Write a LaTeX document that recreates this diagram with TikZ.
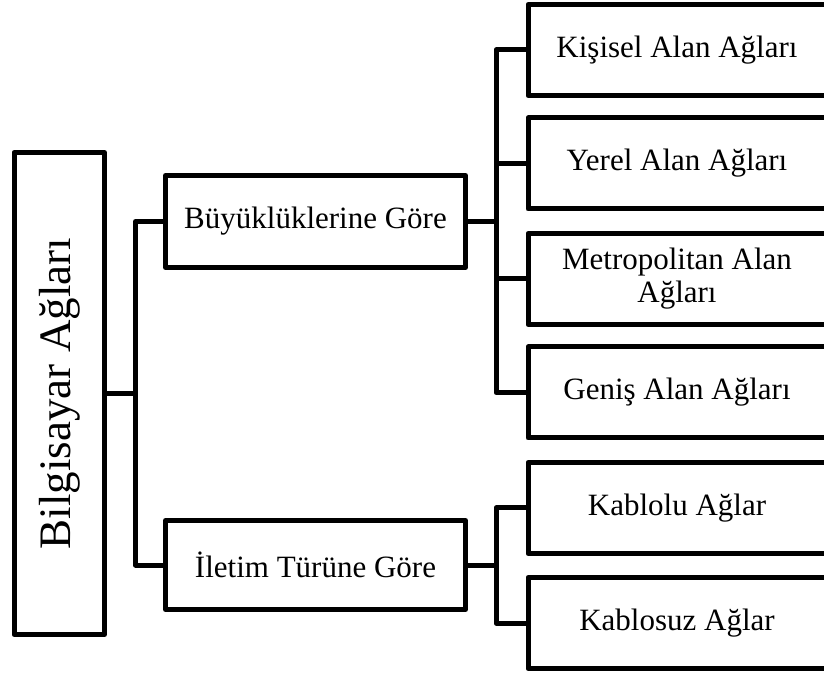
\documentclass[tikz,border=0pt]{standalone}
\usepackage{fontspec}
\setmainfont{Liberation Serif}
\begin{document}
\begin{tikzpicture}[x=1pt,y=1pt,
  box/.style={draw=black, line width=5pt, line join=round, fill=white,
    inner sep=0pt, align=center, font=\fontsize{31}{33}\selectfont},
  leaf/.style={box, minimum width=298pt, minimum height=91pt},
  branch/.style={box, minimum width=300pt},
  conn/.style={draw=black, line width=5pt, line join=round}]
  \useasboundingbox (0,0) rectangle (824,672);
  \clip (0,0) rectangle (824,672);

  % root of the tree
  \node[box, minimum width=90.5pt, minimum height=482pt,
        font=\fontsize{45}{50}\selectfont] (root) at (59.25,278.5)
        {\rotatebox{90}{Bilgisayar Ağları}};

  % second level
  \node[branch, minimum height=92pt] (bm) at (315.5,450.5) {Büyüklüklerine Göre};
  \node[branch, minimum height=89pt] (im) at (315.5,107) {İletim Türüne Göre};

  % leaves
  \node[leaf] (k1) at (677,622)   {Kişisel Alan Ağları};
  \node[leaf] (k2) at (677,508.5) {Yerel Alan Ağları};
  \node[leaf] (k3) at (677,393)   {Metropolitan Alan\\Ağları};
  \node[leaf] (k4) at (677,279.5) {Geniş Alan Ağları};
  \node[leaf] (k5) at (677,164)   {Kablolu Ağlar};
  \node[leaf] (k6) at (677,49)    {Kablosuz Ağlar};

  % junction points of the bracket connectors
  \coordinate (rj) at (135.5,278.5);
  \coordinate (bj) at (496,450.5);
  \coordinate (ij) at (496,107);

  \draw[conn] (root.east) -- (rj);
  \draw[conn] (rj) |- (bm.west);
  \draw[conn] (rj) |- (im.west);

  \draw[conn] (bm.east) -- (bj);
  \draw[conn] (bj) |- (k1.west);
  \draw[conn] (bj) |- (k2.west);
  \draw[conn] (bj) |- (k3.west);
  \draw[conn] (bj) |- (k4.west);

  \draw[conn] (im.east) -- (ij);
  \draw[conn] (ij) |- (k5.west);
  \draw[conn] (ij) |- (k6.west);
\end{tikzpicture}
\end{document}
